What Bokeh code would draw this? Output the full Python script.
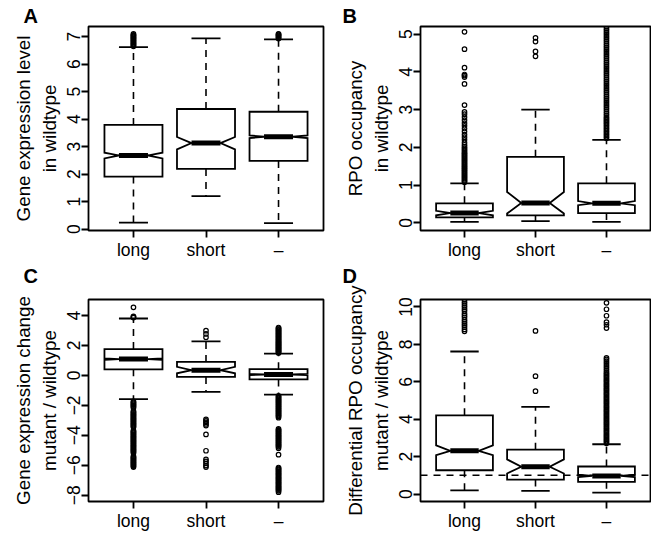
from bokeh.plotting import figure
from bokeh.layouts import column, row
from bokeh.models import Range1d, FixedTicker, Span, Title
from bokeh.embed import file_html
from bokeh.resources import INLINE

FONT = "Liberation Sans"
categories = ["long", "short", "–"]
cat_pos = [1, 2, 3]

# ---------------- Panel A: gene expression level in wildtype
a_lower = [0.24, 1.20, 0.22]
a_q1 = [1.91, 2.19, 2.48]
a_nlo = [2.57, 2.90, 3.31]
a_med = [2.68, 3.13, 3.36]
a_nhi = [2.78, 3.35, 3.41]
a_q3 = [3.79, 4.37, 4.27]
a_upper = [6.62, 6.94, 6.90]
a_out_long = [6.65, 6.68, 6.71, 6.74, 6.77, 6.80, 6.83, 6.86, 6.89, 6.92, 6.95,
              6.98, 7.01, 7.04, 7.07, 7.10]
a_out_short = []
a_out_none = [6.93, 6.96, 6.99, 7.02, 7.05, 7.08, 7.10]
a_ylim = [-0.05, 7.37]
a_yticks = [0, 1, 2, 3, 4, 5, 6, 7]

# ---------------- Panel B: RPO occupancy in wildtype
b_lower = [0.03, 0.05, 0.03]
b_q1 = [0.15, 0.20, 0.26]
b_nlo = [0.20, 0.25, 0.47]
b_med = [0.26, 0.53, 0.52]
b_nhi = [0.32, 0.82, 0.58]
b_q3 = [0.52, 1.75, 1.05]
b_upper = [1.05, 3.00, 2.20]
b_out_long = [1.08, 1.11, 1.14, 1.17, 1.20, 1.23, 1.26, 1.29, 1.32, 1.35, 1.38,
              1.41, 1.44, 1.47, 1.50, 1.53, 1.56, 1.59, 1.62, 1.65, 1.68, 1.71,
              1.74, 1.77, 1.80, 1.83, 1.86, 1.90, 1.94, 1.98, 2.02, 2.07, 2.13,
              2.20, 2.27, 2.34, 2.42, 2.50, 2.57, 2.64, 2.72, 2.80, 2.88, 2.94,
              3.12, 3.68, 3.86, 3.90, 3.93, 4.11, 4.60, 5.06]
b_out_short = [4.41, 4.54, 4.80, 4.90]
b_out_none = [2.24, 2.28, 2.32, 2.36, 2.40, 2.44, 2.48, 2.52, 2.56, 2.60, 2.64,
              2.68, 2.72, 2.76, 2.80, 2.85, 2.90, 2.95, 3.00, 3.05, 3.10, 3.15,
              3.20, 3.25, 3.30, 3.35, 3.40, 3.45, 3.50, 3.55, 3.60, 3.65, 3.70,
              3.75, 3.80, 3.85, 3.90, 3.95, 4.00, 4.05, 4.10, 4.15, 4.20, 4.25,
              4.30, 4.35, 4.40, 4.45, 4.50, 4.55, 4.60, 4.65, 4.70, 4.75, 4.80,
              4.85, 4.90, 4.95, 5.00, 5.05, 5.10, 5.15, 5.20]
b_ylim = [-0.2, 5.2]
b_yticks = [0, 1, 2, 3, 4, 5]

# ---------------- Panel C: gene expression change mutant / wildtype
c_lower = [-1.58, -1.10, -1.28]
c_q1 = [0.41, -0.10, -0.27]
c_nlo = [1.04, 0.14, 0.02]
c_med = [1.09, 0.35, 0.06]
c_nhi = [1.14, 0.57, 0.10]
c_q3 = [1.76, 0.90, 0.42]
c_upper = [3.80, 2.28, 1.46]
c_out_long = [3.86, 3.90, 3.94, 4.55,
              -1.74, -1.80, -1.86, -1.92, -1.98, -2.04, -2.10, -2.17, -2.39,
              -2.45, -2.51, -2.57, -2.63, -2.69, -2.75, -2.81, -2.87, -2.93,
              -2.99, -3.05, -3.11, -3.17, -3.23, -3.29, -3.35, -3.41, -3.46,
              -3.68, -3.74, -3.80, -3.86, -3.92, -3.98, -4.04, -4.10, -4.16,
              -4.22, -4.28, -4.34, -4.40, -4.46, -4.52, -4.58, -4.64, -4.70,
              -4.76, -4.82, -4.88, -4.94, -5.00, -5.06, -5.12, -5.19, -5.40,
              -5.46, -5.52, -5.58, -5.64, -5.70, -5.76, -5.82, -5.88, -5.94,
              -6.00, -6.06, -6.12]
c_out_short = [2.55, 2.77, 2.99, -2.93, -3.03, -3.13, -3.24, -3.35, -3.94,
               -5.03, -5.61, -5.74, -5.88, -6.02, -6.12]
c_out_none = [1.50, 1.55, 1.60, 1.65, 1.70, 1.75, 1.80, 1.85, 1.90, 1.95, 2.00,
              2.05, 2.10, 2.15, 2.20, 2.25, 2.30, 2.35, 2.40, 2.45, 2.50, 2.55,
              2.60, 2.65, 2.70, 2.75, 2.80, 2.85, 2.90, 2.95, 3.00, 3.05, 3.10,
              3.15, 3.20,
              -1.36, -1.42, -1.48, -1.54, -1.60, -1.66, -1.72, -1.78, -1.84,
              -1.90, -1.96, -2.02, -2.08, -2.14, -2.20, -2.26, -2.32, -2.38,
              -2.44, -2.50, -2.56, -2.62, -2.68, -2.74, -2.82,
              -3.57, -3.63, -3.69, -3.75, -3.81, -3.87, -3.93, -3.99, -4.05,
              -4.11, -4.17, -4.23, -4.29, -4.35, -4.41, -4.47, -4.53, -4.59,
              -4.65, -4.71, -4.77, -4.86, -5.29,
              -6.15, -6.21, -6.27, -6.33, -6.39, -6.45, -6.51, -6.57, -6.63,
              -6.69, -6.75, -6.81, -6.87, -6.93, -6.99, -7.05, -7.11, -7.17,
              -7.23, -7.29, -7.35, -7.41, -7.47, -7.53, -7.59, -7.65, -7.71,
              -7.80]
c_ylim = [-8.42, 5.07]
c_yticks = [-8, -6, -4, -2, 0, 2, 4]

# ---------------- Panel D: differential RPO occupancy mutant / wildtype
d_lower = [0.20, 0.17, 0.07]
d_q1 = [1.27, 0.77, 0.65]
d_nlo = [2.08, 1.10, 0.90]
d_med = [2.31, 1.46, 0.97]
d_nhi = [2.60, 1.85, 1.04]
d_q3 = [4.21, 2.37, 1.47]
d_upper = [7.62, 4.66, 2.66]
d_out_long = [8.70, 8.80, 8.92, 9.02, 9.12, 9.22, 9.32, 9.45, 9.55, 9.65, 9.78,
              9.88, 9.98, 10.08, 10.18, 10.28, 10.38]
d_out_short = [5.50, 6.30, 8.72]
d_out_none = [2.72, 2.79, 2.86, 2.93, 3.00, 3.07, 3.14, 3.21, 3.28, 3.35, 3.42,
              3.49, 3.56, 3.63, 3.70, 3.77, 3.84, 3.91, 3.98, 4.05, 4.12, 4.19,
              4.26, 4.33, 4.40, 4.47, 4.54, 4.61, 4.68, 4.75, 4.82, 4.89, 4.96,
              5.03, 5.10, 5.17, 5.24, 5.31, 5.38, 5.45, 5.52, 5.59, 5.66, 5.73,
              5.80, 5.87, 5.94, 6.01, 6.08, 6.15, 6.22, 6.29, 6.36, 6.43, 6.50,
              6.60, 6.70, 6.80, 6.90, 7.00, 7.10, 7.20, 7.28,
              8.87, 9.05, 9.19, 9.53, 9.88, 10.22]
d_ylim = [-0.4, 10.4]
d_yticks = [0, 2, 4, 6, 8, 10]
d_reference = 1.0

BOXW = 0.4      # half box width (R boxwex 0.8)
NOTCH = 0.5     # notch fraction
LW = 1.8
INK = "black"


def minus(v):
    return ("−" + str(abs(v))) if v < 0 else str(v)


def panel(letter, ylabel, stats, outs, ylim, yticks, w, h, bl, br, bt, bb,
          letter_dx, letter_gap, ref=None):
    lower, q1, nlo, med, nhi, q3, upper = stats
    p = figure(width=w, height=h, output_backend="svg", toolbar_location=None,
               x_range=Range1d(0.38, 3.62), y_range=Range1d(ylim[0], ylim[1]),
               min_border_left=bl, min_border_right=br, min_border_top=bt,
               min_border_bottom=bb)
    p.background_fill_color = "white"
    p.border_fill_color = "white"
    p.outline_line_color = INK
    p.outline_line_width = LW
    p.outline_line_alpha = 1.0
    p.xgrid.visible = False
    p.ygrid.visible = False

    p.title.text = letter
    p.title.align = "left"
    p.title.offset = letter_dx
    p.title.standoff = 0
    p.title.vertical_align = "bottom"
    p.title.text_font = FONT
    p.title.text_font_size = "20px"
    p.title.text_font_style = "bold"
    p.title.text_color = INK
    if letter_gap:
        # empty spacer between the panel letter and the frame
        p.add_layout(Title(text=" ", text_font_size=letter_gap, standoff=0),
                     "above")

    for ax in (p.xaxis[0], p.yaxis[0]):
        ax.axis_line_color = None
        ax.minor_tick_line_color = None
        ax.major_tick_in = 0
        ax.major_tick_out = 7
        ax.major_tick_line_color = INK
        ax.major_tick_line_width = LW
        ax.major_label_text_font = FONT
        ax.major_label_text_font_size = "17.5px"
        ax.major_label_text_color = INK
    p.xaxis.ticker = FixedTicker(ticks=cat_pos)
    p.xaxis.major_label_overrides = {k: c for k, c in zip(cat_pos, categories)}
    p.xaxis.major_label_standoff = 2
    p.yaxis.ticker = FixedTicker(ticks=yticks)
    p.yaxis.major_label_overrides = {t: minus(t) for t in yticks}
    p.yaxis.major_label_orientation = "vertical"
    p.yaxis.major_label_standoff = 1
    p.yaxis.axis_label = ylabel
    p.yaxis.axis_label_text_font = FONT
    p.yaxis.axis_label_text_font_size = "18.8px"
    p.yaxis.axis_label_text_font_style = "normal"
    p.yaxis.axis_label_text_color = INK
    p.yaxis.axis_label_standoff = 5

    if ref is not None:
        p.add_layout(Span(location=ref, dimension="width", line_color=INK,
                          line_width=1.5, line_dash="7 6"))

    xs, ys = [], []
    for i, x in enumerate(cat_pos):
        xs.append([x - BOXW, x + BOXW, x + BOXW, x + BOXW * NOTCH, x + BOXW,
                   x + BOXW, x - BOXW, x - BOXW, x - BOXW * NOTCH, x - BOXW])
        ys.append([q1[i], q1[i], nlo[i], med[i], nhi[i], q3[i], q3[i], nhi[i],
                   med[i], nlo[i]])
    p.segment(x0=cat_pos, y0=q3, x1=cat_pos, y1=upper, line_color=INK,
              line_width=1.6, line_dash="7 6")
    p.segment(x0=cat_pos, y0=q1, x1=cat_pos, y1=lower, line_color=INK,
              line_width=1.6, line_dash="7 6")
    cap_l = [x - BOXW * 0.5 for x in cat_pos]
    cap_r = [x + BOXW * 0.5 for x in cat_pos]
    p.segment(x0=cap_l, y0=upper, x1=cap_r, y1=upper, line_color=INK, line_width=LW)
    p.segment(x0=cap_l, y0=lower, x1=cap_r, y1=lower, line_color=INK, line_width=LW)
    p.patches(xs=xs, ys=ys, fill_color="white", fill_alpha=0.0, line_color=INK,
              line_width=LW, line_join="miter")
    p.segment(x0=[x - BOXW * NOTCH for x in cat_pos], y0=med,
              x1=[x + BOXW * NOTCH for x in cat_pos], y1=med,
              line_color=INK, line_width=5, line_cap="butt")
    for x, o in zip(cat_pos, outs):
        if o:
            p.scatter(x=[x] * len(o), y=o, marker="circle", size=4.5,
                      fill_color=None, line_color=INK, line_width=1.2)
    return p


LW_COL, RW_COL = 325, 326
TOP_H, BOT_H = 262, 271

pa = panel("A", "Gene expression level\nin wildtype",
           (a_lower, a_q1, a_nlo, a_med, a_nhi, a_q3, a_upper),
           (a_out_long, a_out_short, a_out_none), a_ylim, a_yticks,
           LW_COL, TOP_H, 88, 2, 24, 31, -65, None)
pb = panel("B", "RPO occupancy\nin wildtype",
           (b_lower, b_q1, b_nlo, b_med, b_nhi, b_q3, b_upper),
           (b_out_long, b_out_short, b_out_none), b_ylim, b_yticks,
           RW_COL, TOP_H, 95, 1, 26, 28, -78, None)
pc = panel("C", "Gene expression change\nmutant / wildtype",
           (c_lower, c_q1, c_nlo, c_med, c_nhi, c_q3, c_upper),
           (c_out_long, c_out_short, c_out_none), c_ylim, c_yticks,
           LW_COL, BOT_H, 88, 2, 35, 30, -65, "10px")
pd = panel("D", "Differential RPO occupancy\nmutant / wildtype",
           (d_lower, d_q1, d_nlo, d_med, d_nhi, d_q3, d_upper),
           (d_out_long, d_out_short, d_out_none), d_ylim, d_yticks,
           RW_COL, BOT_H, 95, 1, 35, 30, -78, "10px", ref=d_reference)

layout = column(row(pa, pb, spacing=0), row(pc, pd, spacing=0), spacing=0)
open("out.html", "w").write(file_html(layout, INLINE))
